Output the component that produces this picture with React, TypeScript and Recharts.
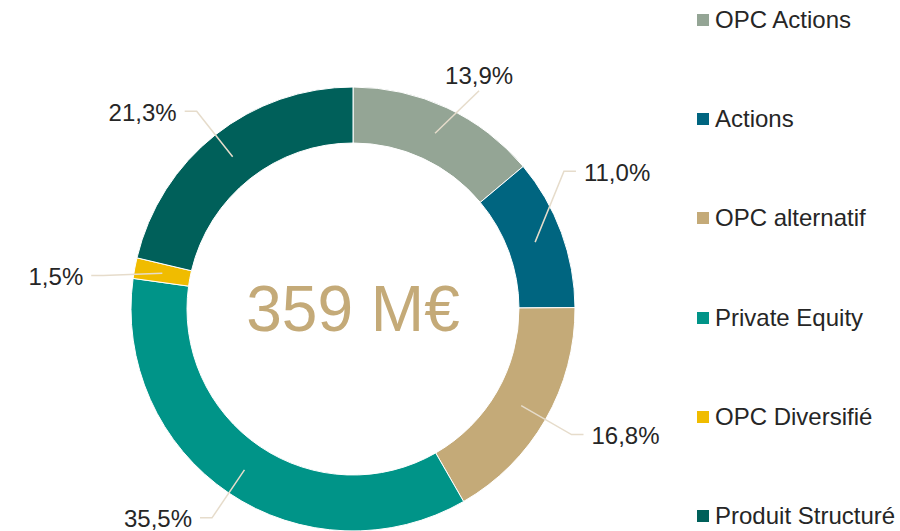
import { Legend, Pie, PieChart, Cell } from 'recharts'

const categories = ['OPC Actions', 'Actions', 'OPC alternatif', 'Private Equity', 'OPC Diversifié', 'Produit Structuré']
const shares = [13.9, 11.0, 16.8, 35.5, 1.5, 21.3]
const colors = ['#94a595', '#006580', '#c4aa78', '#009488', '#f0bc00', '#00605a']
const totalLabel = '359 M€'

const data = categories.map((name, i) => ({ name, value: shares[i] }))

// small angle nudges (degrees) so the top-right labels sit like the original
const labelNudge: Record<string, number> = { 'OPC Actions': -5, Actions: 13, 'OPC Diversifié': 3 }

const RAD = Math.PI / 180
const fmt = (v: number) => `${v.toFixed(1).replace('.', ',')}%`
const FONT = '"Liberation Sans", Arial, sans-serif'

function renderLabel(props: any) {
  const { cx, cy, midAngle, innerRadius, outerRadius, value, name } = props
  const r0 = (innerRadius + outerRadius) / 2
  const x0 = cx + r0 * Math.cos(-midAngle * RAD)
  const y0 = cy + r0 * Math.sin(-midAngle * RAD)
  const a = midAngle + (labelNudge[name] ?? 0)
  const cos = Math.cos(-a * RAD)
  const sin = Math.sin(-a * RAD)
  const r1 = outerRadius + 30
  const x1 = cx + r1 * cos
  const y1 = cy + r1 * sin
  const right = cos >= 0

  if (Math.abs(sin) > 0.85 && sin < 0) {
    // near the top: label sits above the end of the line
    return (
      <g>
        <polyline points={`${x0},${y0} ${x1},${y1}`} fill='none' stroke='#e6dccb' strokeWidth={1.5} />
        <text x={x1} y={y1 - 15} textAnchor='middle' dominantBaseline='central' fill='#262626' fontSize={24}>
          {fmt(value)}
        </text>
      </g>
    )
  }

  const x2 = x1 + (right ? 12 : -12)
  return (
    <g>
      <polyline
        points={`${x0},${y0} ${x1},${y1} ${x2},${y1}`}
        fill='none'
        stroke='#e6dccb'
        strokeWidth={1.5}
      />
      <text
        x={x2 + (right ? 8 : -8)}
        y={y1 + 1}
        textAnchor={right ? 'start' : 'end'}
        dominantBaseline='central'
        fill='#262626'
        fontSize={24}
      >
        {fmt(value)}
      </text>
    </g>
  )
}

function LegendContent() {
  return (
    <div style={{ display: 'flex', flexDirection: 'column', gap: 71.2 }}>
      {categories.map((c, i) => (
        <div key={c} style={{ display: 'flex', alignItems: 'center', height: 28 }}>
          <span style={{ width: 12, height: 12, background: colors[i], marginRight: 6, display: 'inline-block' }} />
          <span style={{ fontSize: 24, color: '#262626', whiteSpace: 'nowrap' }}>{c}</span>
        </div>
      ))}
    </div>
  )
}

export default function App() {
  return (
    <div style={{ position: 'absolute', left: 0, top: 0, width: 900, height: 531, background: '#fff', fontFamily: FONT }}>
      <PieChart width={900} height={531} margin={{ top: 0, right: 0, bottom: 0, left: 0 }} style={{ fontFamily: FONT }}>
        <Pie
          data={data}
          dataKey='value'
          nameKey='name'
          cx={353}
          cy={309}
          innerRadius={166}
          outerRadius={222}
          startAngle={90}
          endAngle={-270}
          stroke='#ffffff'
          strokeWidth={1}
          label={renderLabel}
          labelLine={false}
          isAnimationActive={false}
        >
          {data.map((d, i) => (
            <Cell key={d.name} fill={colors[i]} />
          ))}
        </Pie>
        <Legend
          content={<LegendContent />}
          wrapperStyle={{ position: 'absolute', left: 697, top: 6, width: 200 }}
        />
      </PieChart>
      <div
        style={{
          position: 'absolute',
          left: 353 - 150,
          top: 309 - 40,
          width: 300,
          height: 80,
          display: 'flex',
          alignItems: 'center',
          justifyContent: 'center',
          fontSize: 64,
          color: '#c4aa78',
          pointerEvents: 'none',
        }}
      >
        {totalLabel}
      </div>
    </div>
  )
}
